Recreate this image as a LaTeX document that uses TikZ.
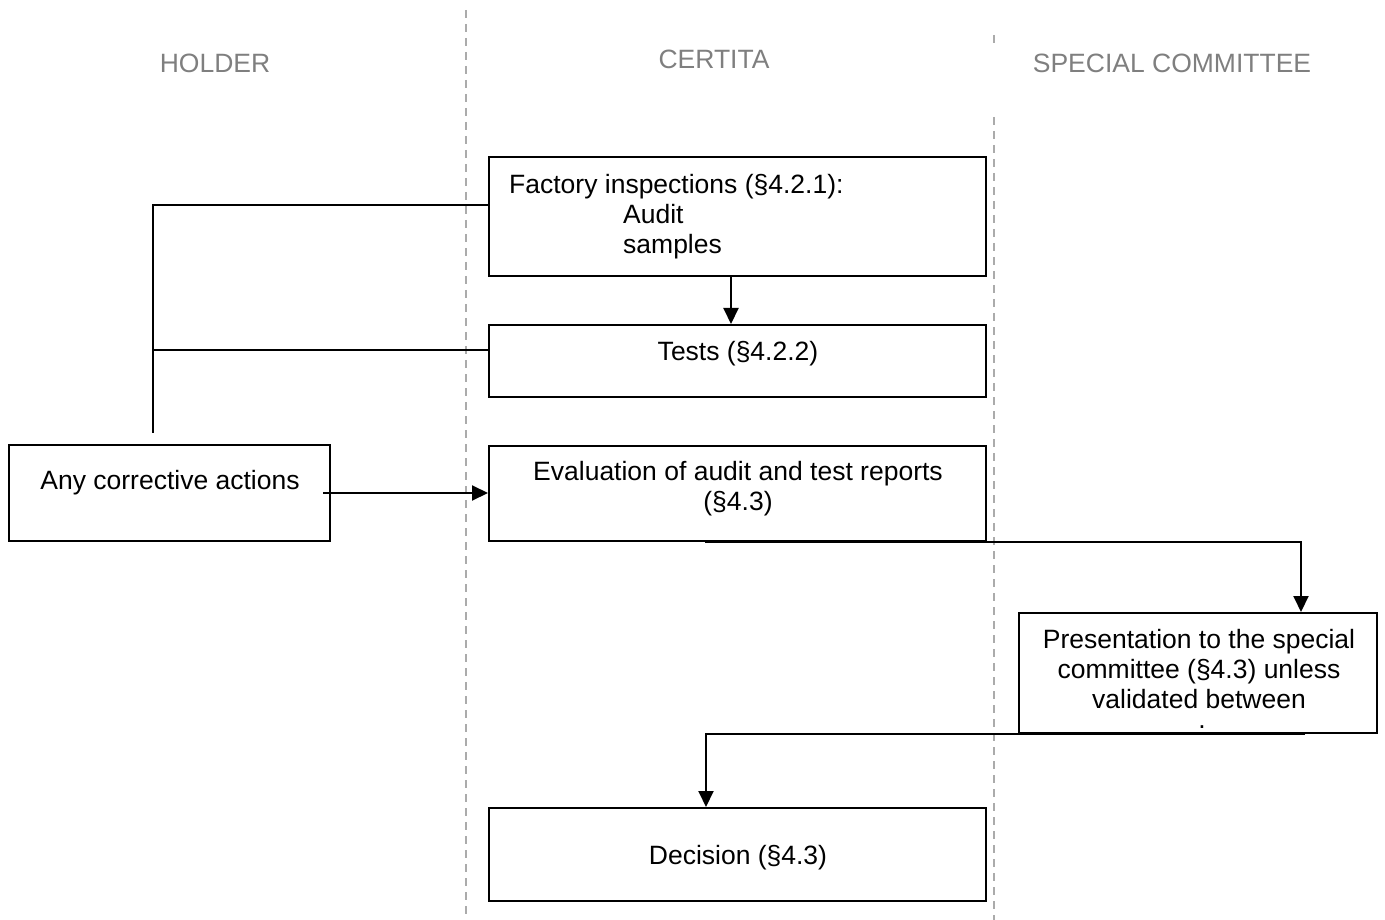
\documentclass[tikz,border=0pt]{standalone}
\usepackage{fontspec}
\setmainfont{Liberation Sans}
\usetikzlibrary{arrows.meta,calc}
\definecolor{lanegray}{HTML}{ABABAB}
\definecolor{hdrgray}{HTML}{7F7F7F}
\tikzset{
  box/.style={draw=black, line width=2pt, inner sep=0pt},
  txt/.style={font=\fontsize{26.5}{30}\selectfont, inner sep=0pt, anchor=base},
  hdr/.style={txt, text=hdrgray},
  lane/.style={draw=lanegray, line width=1.6pt, dash pattern=on 8pt off 6pt},
  conn/.style={draw=black, line width=2pt},
  arr/.style={conn, -{Triangle[length=16pt,width=15pt]}}
}
\begin{document}
\begin{tikzpicture}[x=1pt,y=-1pt]
\useasboundingbox (0,0) rectangle (1385,920);
% swimlane separators
\coordinate (l1t) at (466,10);
\coordinate (l1b) at (466,920);
\coordinate (l2a) at (994,35);
\coordinate (l2b) at (994,43);
\coordinate (l2t) at (994,117);
\coordinate (l2e) at (994,920);
\draw[lane] (l1t) -- (l1b);
\draw[lane] (l2a) -- (l2b);
\draw[lane] (l2t) -- (l2e);
% headers
\node[hdr] (hholder) at (215,72.5) {HOLDER};
\node[hdr] (hcertita) at (714,68.5) {CERTITA};
\node[hdr] (hcomm) at (1172,72.5) {SPECIAL COMMITTEE};
% boxes
\node[box, minimum width=497, minimum height=119] (fac) at (737.5,216.5) {};
\node[box, minimum width=497, minimum height=72] (tests) at (737.5,361) {};
\node[box, minimum width=497, minimum height=95] (eval) at (737.5,493.5) {};
\node[box, minimum width=321, minimum height=96] (corr) at (169.5,493) {};
\node[box, minimum width=358, minimum height=120] (pres) at (1198,673) {};
\node[box, minimum width=497, minimum height=93] (dec) at (737.5,854.5) {};
% texts
\node[txt, anchor=base west] (fact1) at (509,193.5) {Factory inspections (§4.2.1):};
\node[txt, anchor=base west] (fact2) at (623,223.5) {Audit};
\node[txt, anchor=base west] (fact3) at (623,253.5) {samples};
\node[txt] (testt) at (738,360.5) {Tests (§4.2.2)};
\node[txt] (evalt1) at (738,480.5) {Evaluation of audit and test reports};
\node[txt] (evalt2) at (738,510.5) {(§4.3)};
\node[txt] (corrt) at (170,489.5) {Any corrective actions};
\node[txt, align=center] (prest) at (1199,728) {Presentation to the special\\committee (§4.3) unless\\validated between\\[-10.5pt]\hspace*{6pt}.};
\node[txt] (dect) at (738,864.5) {Decision (§4.3)};
% connectors
\coordinate (lp) at (153,433);
\draw[conn] ($(fac.west)+(0,-11.5)$) -| (lp);
\draw[conn] ($(tests.west)+(0,-11)$) -| (lp);
\draw[arr] ($(fac.south)+(-6.5,0)$) -- ($(tests.north)+(-6.5,0)$);
\draw[arr] ($(corr.east)+(-8,0)$) -- (eval.west |- corr.east);
\draw[arr] ($(eval.south)+(-33,0)$) -| ($(pres.north)+(103,0)$);
\draw[arr] ($(pres.south)+(107,0)$) -| ($(dec.north)+(-31.5,0)$);
\end{tikzpicture}
\end{document}
